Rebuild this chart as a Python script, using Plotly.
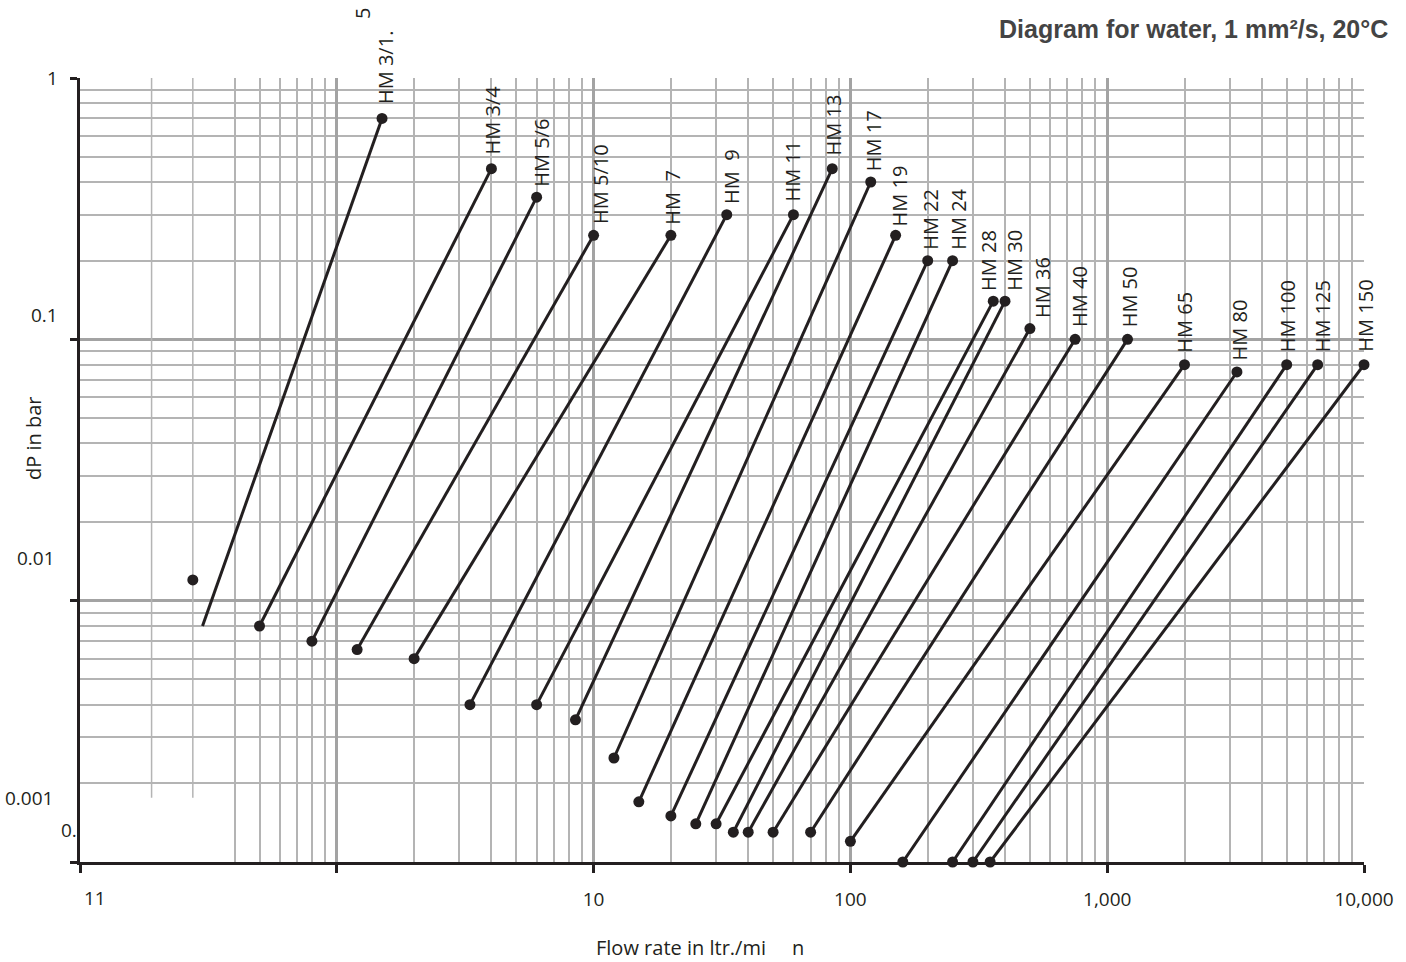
import math
import plotly.graph_objects as go

# ---------------- data ----------------
models = ["HM 3/1.5", "HM 3/4", "HM 5/6", "HM 5/10", "HM 7", "HM 9", "HM 11", "HM 13",
          "HM 17", "HM 19", "HM 22", "HM 24", "HM 28", "HM 30", "HM 36", "HM 40",
          "HM 50", "HM 65", "HM 80", "HM 100", "HM 125", "HM 150"]
label_text = ["HM 3/1.", "HM 3/4", "HM 5/6", "HM 5/10", "HM\u00a0\u00a07", "HM\u00a0\u00a09",
              "HM 11", "HM 13", "HM 17", "HM 19", "HM 22", "HM 24", "HM 28", "HM 30",
              "HM 36", "HM 40", "HM 50", "HM 65", "HM 80", "HM 100", "HM 125", "HM 150"]
# flow rate (ltr./min) and pressure drop (bar) at the low and high end of each line
q_min = [0.30, 0.5, 0.8, 1.2, 2.0, 3.3, 6.0, 8.5, 12, 15, 20, 25, 30, 35, 40, 50,
         70, 100, 160, 250, 300, 350]
dp_min = [0.008, 0.008, 0.007, 0.0065, 0.006, 0.004, 0.004, 0.0035, 0.0025, 0.0017,
          0.0015, 0.0014, 0.0014, 0.0013, 0.0013, 0.0013, 0.0013, 0.0012, 0.001,
          0.001, 0.001, 0.001]
q_max = [1.5, 4.0, 6.0, 10, 20, 33, 60, 85, 120, 150, 200, 250, 360, 400, 500, 750,
         1200, 2000, 3200, 5000, 6600, 10000]
dp_max = [0.70, 0.45, 0.35, 0.25, 0.25, 0.30, 0.30, 0.45, 0.40, 0.25, 0.20, 0.20,
          0.14, 0.14, 0.11, 0.10, 0.10, 0.08, 0.075, 0.08, 0.08, 0.08]
# detached end point of HM 3/1.5
stray_q = [0.275]
stray_dp = [0.012]

x_tick_vals = [0.1, 1, 10, 100, 1000, 10000]
x_tick_text = ["", "", "10", "100", "1,000", "10,000"]
x_first_label = "11"
y_tick_vals = [1, 0.1, 0.01, 0.001]
y_label_text = ["1", "0.1", "0.01", "0.001", "0."]

x_minor = [0.4, 0.5, 0.6, 0.7, 0.8, 0.9] + [m * 10 ** k for k in range(0, 4) for m in range(2, 10)]
y_minor = [m * 10 ** k for k in range(-3, 0) for m in range(2, 10)]
x_short_grid = [0.19, 0.275]

title_text = "<b>Diagram for water, 1 mm²/s, 20°C</b>"
x_title = "Flow rate in ltr./mi\u00a0\u00a0\u00a0\u00a0\u00a0n"
y_title = "dP in bar"

# ---------------- styling / layout positions ----------------
INK = "#231f20"
FONT = "Open Sans"
label_dx = [4, 1, 5, 7, 2, 4, -1, 1, 3, 4, 2, 6, -5, 10, 12, 5, 2, 0, 3, 1, 5, 2]
label_dy = [12, 12, 8, 9, 9, 9, 11, 11, 9, 7, 9, 9, 8, 8, 9, 10, 10, 10, 10, 10, 10, 11]
y_label_pos = [1.0, 0.6977, 0.3878, 0.0816, 0.0408]
y_label_shift = [-20, -20, -23, -25, -1]

fig = go.Figure()

# short irregular grid lines in the first decade
for xv in x_short_grid:
    fig.add_trace(go.Scatter(x=[xv, xv], y=[0.00176, 1], mode="lines",
                             line=dict(color="#b4b4b4", width=1.5),
                             hoverinfo="skip", showlegend=False))

for i, name in enumerate(models):
    sizes = [0 if i == 0 else 11, 11]
    fig.add_trace(go.Scatter(
        x=[q_min[i], q_max[i]], y=[dp_min[i], dp_max[i]],
        mode="lines+markers", name=name,
        line=dict(color=INK, width=3),
        marker=dict(color=INK, size=sizes, opacity=1, line=dict(width=0)),
        cliponaxis=False, showlegend=False))

fig.add_trace(go.Scatter(x=stray_q, y=stray_dp, mode="markers",
                         marker=dict(color=INK, size=11, line=dict(width=0)),
                         cliponaxis=False, showlegend=False))

ann = []
for i, t in enumerate(label_text):
    ann.append(dict(x=math.log10(q_max[i]), y=math.log10(dp_max[i]), xref="x", yref="y",
                    text=t, showarrow=False, textangle=-90,
                    xanchor="center", yanchor="bottom",
                    xshift=label_dx[i], yshift=label_dy[i],
                    font=dict(family=FONT, size=20, color=INK)))
# stray "5" of HM 3/1.5
ann.append(dict(x=0.2197, y=1.0816, xref="paper", yref="paper", text="5", showarrow=False,
                textangle=-90, xanchor="center", yanchor="middle",
                font=dict(family=FONT, size=20, color=INK)))
for t, yp, xs in zip(y_label_text, y_label_pos, y_label_shift):
    ann.append(dict(x=0, y=yp, xref="paper", yref="paper", text=t, showarrow=False,
                    xanchor="right", yanchor="middle", xshift=xs,
                    font=dict(family=FONT, size=19, color=INK)))
ann.append(dict(x=0, y=0, xref="paper", yref="paper", text=x_first_label, showarrow=False,
                xanchor="center", yanchor="middle", xshift=15, yshift=-36,
                font=dict(family=FONT, size=19, color=INK)))
ann.append(dict(x=0.4825, y=0, xref="paper", yref="paper", text=x_title, showarrow=False,
                xanchor="center", yanchor="middle", yshift=-85,
                font=dict(family=FONT, size=20, color=INK)))
ann.append(dict(x=0, y=0.5408, xref="paper", yref="paper", text=y_title, showarrow=False,
                textangle=-90, xanchor="center", yanchor="middle", xshift=-47,
                font=dict(family=FONT, size=20, color=INK)))
ann.append(dict(x=1, y=1, xref="paper", yref="paper", text=title_text, showarrow=False,
                xanchor="right", yanchor="middle", xshift=26, yshift=49,
                font=dict(family="Liberation Sans", size=25, color="#444444")))

fig.update_layout(
    width=1406, height=962,
    margin=dict(l=80, r=38, t=78, b=100),
    paper_bgcolor="white", plot_bgcolor="white",
    showlegend=False, hovermode=False,
    annotations=ann,
    xaxis=dict(type="log", range=[-1, 4], tickmode="array",
               tickvals=x_tick_vals, ticktext=x_tick_text,
               showgrid=True, gridcolor="#a3a3a3", gridwidth=2.5,
               minor=dict(tickmode="array", tickvals=x_minor, showgrid=True,
                          gridcolor="#b4b4b4", gridwidth=1.5, ticks=""),
               showline=True, linecolor=INK, linewidth=3, mirror=False,
               ticks="outside", ticklen=8, tickwidth=3, tickcolor=INK,
               ticklabelstandoff=10,
               tickfont=dict(family=FONT, size=19, color=INK)),
    yaxis=dict(type="log", range=[-3, 0], tickmode="array",
               tickvals=y_tick_vals, ticktext=["", "", "", ""],
               showgrid=True, gridcolor="#a3a3a3", gridwidth=2.5,
               minor=dict(tickmode="array", tickvals=y_minor, showgrid=True,
                          gridcolor="#b4b4b4", gridwidth=1.5, ticks=""),
               showline=True, linecolor=INK, linewidth=3, mirror=False,
               ticks="outside", ticklen=7, tickwidth=3, tickcolor=INK),
)

fig.write_html("out.html", config={"displayModeBar": False},
               post_script="document.body.style.margin='0';")
